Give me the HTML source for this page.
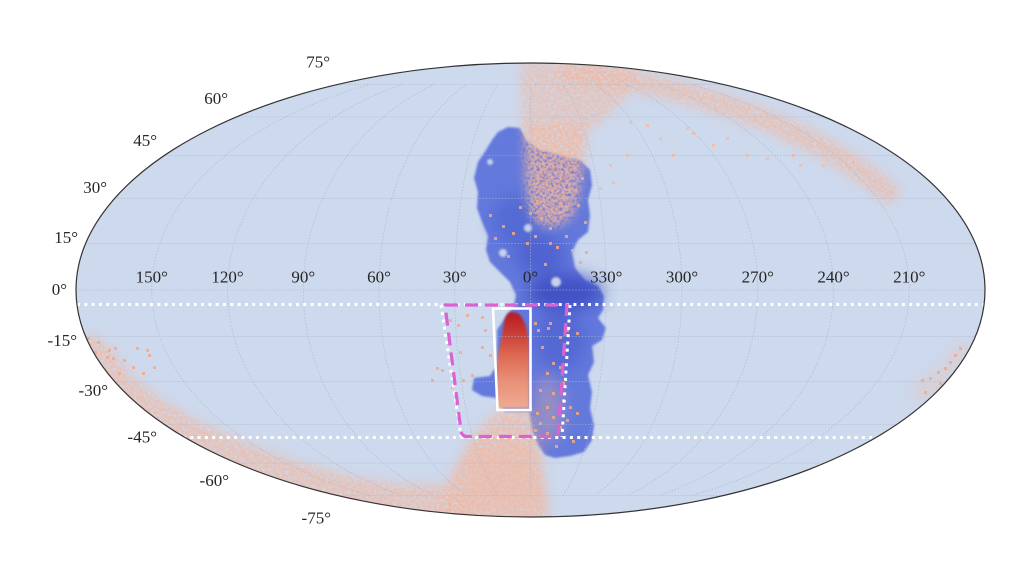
<!DOCTYPE html>
<html><head><meta charset="utf-8"><style>
html,body{margin:0;padding:0;background:#fff;}
svg{display:block;}
text{font-family:"Liberation Serif",serif;font-size:17px;fill:#262626;}
</style></head><body>
<svg width="1023" height="568" viewBox="0 0 1023 568" xmlns="http://www.w3.org/2000/svg">
<defs>
 <clipPath id="c"><ellipse cx="530.5" cy="290" rx="454.5" ry="227"/></clipPath>
 <clipPath id="c75"><rect x="0" y="84.3" width="1023" height="411.4"/></clipPath>
 <filter id="b1" x="-10%" y="-10%" width="120%" height="120%"><feGaussianBlur stdDeviation="1"/></filter>
 <filter id="b8" x="-30%" y="-30%" width="160%" height="160%"><feGaussianBlur stdDeviation="8"/></filter>
 <filter id="sp" x="-10%" y="-10%" width="120%" height="120%">
  <feGaussianBlur in="SourceGraphic" stdDeviation="5" result="bl"/>
  <feTurbulence type="fractalNoise" baseFrequency="0.35" numOctaves="2" seed="7" result="n"/>
  <feColorMatrix in="n" type="matrix" values="0 0 0 0 0  0 0 0 0 0  0 0 0 0 0  2.2 0 0 0 -0.35" result="m"/>
  <feComposite in="bl" in2="m" operator="in"/>
 </filter>
 <linearGradient id="core" x1="0" y1="0" x2="0" y2="1">
  <stop offset="0" stop-color="#b31d29"/>
  <stop offset="0.18" stop-color="#c63530"/>
  <stop offset="0.45" stop-color="#dd6a52"/>
  <stop offset="0.75" stop-color="#ea937b"/>
  <stop offset="1" stop-color="#f0ab93"/>
 </linearGradient>
</defs>

<ellipse cx="530.5" cy="290" rx="454.5" ry="227" fill="#cdd9ed"/>

<g clip-path="url(#c)">
 <g filter="url(#b1)">
  <path fill="#6479dc" d="M498,132 L508,127 L520,128 L526,140 L540,150 L560,155 L580,160 L590,170 L592,185 L588,200 L590,215 L588,232 L578,240 L572,252 L575,268 L585,280 L598,286 L604,296 L603,310 L598,318 L606,328 L602,340 L592,346 L594,362 L588,375 L592,392 L590,408 L594,425 L592,440 L584,452 L570,456 L555,458 L545,455 L538,445 L532,430 L529,412 L505,412 L496,398 L482,396 L472,390 L474,378 L490,376 L497,365 L497,330 L505,318 L514,306 L516,295 L510,282 L500,272 L490,262 L486,250 L488,236 L482,222 L477,208 L478,192 L474,178 L478,162 L486,150 L492,140 Z"/>
 </g>
 <g filter="url(#b8)" opacity="0.75">
  <ellipse cx="565" cy="292" rx="38" ry="18" fill="#3545bd"/>
  <ellipse cx="540" cy="255" rx="25" ry="20" fill="#4a5ccc"/>
  <ellipse cx="515" cy="220" rx="22" ry="25" fill="#5066d2"/>
  <ellipse cx="560" cy="340" rx="25" ry="30" fill="#4f62d0"/>
 </g>
 <g fill="#c6d2ea" filter="url(#b1)">
  <circle cx="503" cy="253" r="4"/>
  <circle cx="528" cy="228" r="4"/>
  <circle cx="556" cy="282" r="5"/>
  <circle cx="490" cy="162" r="3"/>
 </g>

 <g filter="url(#sp)" fill="#f4b69c">
  <path opacity="0.85" d="M524,125 L588,125 L584,160 L580,190 L574,215 L560,226 L542,226 L530,214 L525,180 Z"/>
  <path opacity="0.6" d="M520,62 L580,60 L640,68 L625,100 L595,128 L522,130 Z"/>
  <path opacity="0.7" fill="none" stroke="#f4b69c" stroke-width="22" stroke-linecap="round" d="M570,74 C640,78 700,95 760,118 C810,138 850,160 888,192"/>
  <path opacity="0.75" d="M498,410 L530,410 L536,440 L542,470 L548,505 L545,530 L470,525 L440,505 L448,478 L465,450 L482,425 Z"/>
  <path opacity="0.7" d="M470,530 L470,500 L440,484 L400,484 L350,476 L300,462 L250,444 L200,422 L160,398 L130,374 L112,350 L95,335 L60,340 L60,560 Z"/>
  <path opacity="0.3" d="M960,340 L975,350 L960,395 L915,402 L912,385 L940,365 Z"/>
 </g>
 <g filter="url(#b8)" fill="#f4b69c" opacity="0.35">
  <path d="M470,445 L535,440 L545,510 L460,512 Z"/>
  <ellipse cx="548" cy="410" rx="16" ry="35"/>
 </g>

 <g fill="#f2a88c" opacity="0.85">
  <rect x="489" y="214" width="3" height="3"/><rect x="502" y="225" width="3" height="3"/><rect x="512" y="232" width="3" height="3"/>
  <rect x="529" y="212" width="3" height="3"/><rect x="540" y="217" width="3" height="3"/><rect x="549" y="227" width="3" height="3"/>
  <rect x="549" y="242" width="3" height="3"/><rect x="556" y="246" width="3" height="3"/><rect x="571" y="249" width="3" height="3"/>
  <rect x="585" y="251" width="3" height="3"/><rect x="584" y="221" width="3" height="3"/><rect x="526" y="242" width="3" height="3"/>
  <rect x="519" y="206" width="3" height="3"/><rect x="534" y="235" width="3" height="3"/><rect x="565" y="235" width="3" height="3"/>
  <rect x="577" y="204" width="3" height="3"/><rect x="559" y="211" width="3" height="3"/><rect x="591" y="271" width="3" height="3"/>
  <rect x="579" y="261" width="3" height="3"/><rect x="544" y="263" width="3" height="3"/><rect x="507" y="255" width="3" height="3"/>
  <rect x="494" y="237" width="3" height="3"/><rect x="562" y="195" width="3" height="3"/><rect x="574" y="189" width="3" height="3"/>
  <rect x="581" y="177" width="3" height="3"/><rect x="551" y="189" width="3" height="3"/><rect x="536" y="200" width="3" height="3"/>
  <rect x="466" y="314" width="3" height="3"/><rect x="481" y="316" width="3" height="3"/><rect x="449" y="319" width="3" height="3"/>
  <rect x="457" y="324" width="3" height="3"/><rect x="484" y="329" width="3" height="3"/><rect x="447" y="342" width="3" height="3"/>
  <rect x="481" y="346" width="3" height="3"/><rect x="459" y="351" width="3" height="3"/><rect x="489" y="354" width="3" height="3"/>
  <rect x="436" y="367" width="3" height="3"/><rect x="441" y="369" width="3" height="3"/><rect x="471" y="374" width="3" height="3"/>
  <rect x="431" y="379" width="3" height="3"/><rect x="462" y="379" width="3" height="3"/><rect x="451" y="386" width="3" height="3"/>
  <rect x="534" y="322" width="3" height="3"/><rect x="537" y="329" width="3" height="3"/><rect x="549" y="322" width="3" height="3"/>
  <rect x="547" y="327" width="3" height="3"/><rect x="541" y="346" width="3" height="3"/><rect x="559" y="336" width="3" height="3"/>
  <rect x="566" y="329" width="3" height="3"/><rect x="576" y="332" width="3" height="3"/><rect x="552" y="362" width="3" height="3"/>
  <rect x="546" y="372" width="3" height="3"/><rect x="559" y="366" width="3" height="3"/><rect x="562" y="382" width="3" height="3"/>
  <rect x="539" y="389" width="3" height="3"/><rect x="552" y="392" width="3" height="3"/><rect x="562" y="399" width="3" height="3"/>
  <rect x="546" y="406" width="3" height="3"/><rect x="536" y="412" width="3" height="3"/><rect x="552" y="416" width="3" height="3"/>
  <rect x="566" y="419" width="3" height="3"/><rect x="539" y="422" width="3" height="3"/><rect x="559" y="426" width="3" height="3"/>
  <rect x="534" y="429" width="3" height="3"/><rect x="546" y="432" width="3" height="3"/><rect x="569" y="406" width="3" height="3"/>
  <rect x="576" y="412" width="3" height="3"/><rect x="572" y="440" width="3" height="3"/><rect x="555" y="445" width="3" height="3"/>
  <rect x="87" y="337" width="3" height="3"/><rect x="97" y="341" width="3" height="3"/><rect x="94" y="351" width="3" height="3"/>
  <rect x="106" y="356" width="3" height="3"/><rect x="112" y="357" width="3" height="3"/><rect x="114" y="347" width="3" height="3"/>
  <rect x="136" y="347" width="3" height="3"/><rect x="146" y="349" width="3" height="3"/><rect x="108" y="349" width="3" height="3"/>
  <rect x="148" y="354" width="3" height="3"/><rect x="153" y="366" width="3" height="3"/><rect x="123" y="359" width="3" height="3"/>
  <rect x="132" y="366" width="3" height="3"/><rect x="118" y="372" width="3" height="3"/><rect x="105" y="374" width="3" height="3"/>
  <rect x="142" y="372" width="3" height="3"/>
  <rect x="959" y="347" width="3" height="3"/><rect x="954" y="354" width="3" height="3"/><rect x="949" y="361" width="3" height="3"/>
  <rect x="944" y="367" width="3" height="3"/><rect x="937" y="371" width="3" height="3"/><rect x="929" y="377" width="3" height="3"/>
  <rect x="921" y="379" width="3" height="3"/><rect x="939" y="382" width="3" height="3"/><rect x="924" y="391" width="3" height="3"/>
 </g>
 <g fill="#f4bba3" opacity="0.8">
  <rect x="629" y="121" width="3" height="3"/><rect x="646" y="124" width="3" height="3"/><rect x="659" y="137" width="3" height="3"/>
  <rect x="686" y="127" width="3" height="3"/><rect x="692" y="132" width="3" height="3"/><rect x="712" y="144" width="3" height="3"/>
  <rect x="672" y="154" width="3" height="3"/><rect x="726" y="137" width="3" height="3"/><rect x="626" y="154" width="3" height="3"/>
  <rect x="609" y="164" width="3" height="3"/><rect x="612" y="181" width="3" height="3"/><rect x="599" y="187" width="3" height="3"/>
  <rect x="746" y="154" width="3" height="3"/><rect x="766" y="157" width="3" height="3"/><rect x="792" y="154" width="3" height="3"/>
  <rect x="799" y="164" width="3" height="3"/><rect x="822" y="164" width="3" height="3"/><rect x="852" y="161" width="3" height="3"/>
 </g>

 <path filter="url(#b1)" fill="url(#core)" d="M511,312 C505,313 504,322 503,330 C501,342 498,352 497,362 L497,408 L529,408 L529,345 C528,330 524,318 518,313 Z"/>

 <g stroke="#aab6ca" stroke-width="0.8" stroke-dasharray="1.6 1.6" fill="none" opacity="0.75">
  <path d="M60,84.3H1000M60,116.9H1000M60,155.6H1000M60,198.3H1000M60,243.5H1000M60,290H1000M60,336.5H1000M60,381.7H1000M60,424.4H1000M60,463.1H1000M60,495.7H1000"/>
  <g clip-path="url(#c75)">
   <ellipse cx="530.5" cy="290" rx="75.75" ry="227"/>
   <ellipse cx="530.5" cy="290" rx="151.5" ry="227"/>
   <ellipse cx="530.5" cy="290" rx="227.25" ry="227"/>
   <ellipse cx="530.5" cy="290" rx="303" ry="227"/>
   <ellipse cx="530.5" cy="290" rx="378.75" ry="227"/>
   <path d="M530.5,60V520"/>
  </g>
 </g>

 <g stroke="#ffffff" stroke-width="3" stroke-dasharray="3 4.3" fill="none">
  <path d="M77,304.5H990"/>
  <path d="M183,437.5H880"/>
  <path d="M441,305 L461,437"/>
  <path d="M570,305 L562,437"/>
 </g>

 <path d="M445,305 L567,305 L558,436.5 L467,436.5 Q462,436.5 461,431 Z" fill="none" stroke="#da62d2" stroke-width="3.2" stroke-dasharray="13 7"/>

 <path d="M493,308.5 L530.5,308.5 L530.5,410 L497.5,410 Z" fill="none" stroke="#ffffff" stroke-width="2.6"/>
</g>

<ellipse cx="530.5" cy="290" rx="454.5" ry="227" fill="none" stroke="#333333" stroke-width="1.2"/>

<g text-anchor="end">
 <text x="330" y="67.5">75°</text>
 <text x="228" y="104">60°</text>
 <text x="157" y="146">45°</text>
 <text x="107" y="193">30°</text>
 <text x="78" y="243">15°</text>
 <text x="67" y="295">0°</text>
 <text x="77" y="346">-15°</text>
 <text x="108" y="396">-30°</text>
 <text x="157" y="442.5">-45°</text>
 <text x="229" y="486">-60°</text>
 <text x="331" y="523.5">-75°</text>
</g>
<g text-anchor="middle">
 <text x="151.75" y="282.5">150°</text>
 <text x="227.5" y="282.5">120°</text>
 <text x="303.25" y="282.5">90°</text>
 <text x="379" y="282.5">60°</text>
 <text x="454.75" y="282.5">30°</text>
 <text x="530.5" y="282.5">0°</text>
 <text x="606.25" y="282.5">330°</text>
 <text x="682" y="282.5">300°</text>
 <text x="757.75" y="282.5">270°</text>
 <text x="833.5" y="282.5">240°</text>
 <text x="909.25" y="282.5">210°</text>
</g>
</svg>
</body></html>
